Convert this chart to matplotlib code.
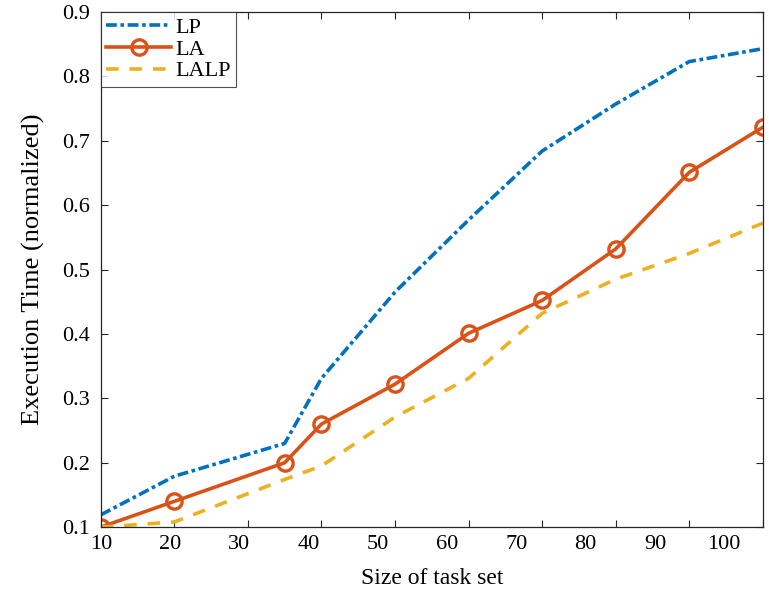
import matplotlib
matplotlib.use("Agg")
import matplotlib.pyplot as plt
from matplotlib.transforms import ScaledTranslation

task_sizes = [10, 20, 35, 40, 50, 60, 70, 80, 90, 100]
lp = [0.119, 0.179, 0.23, 0.331, 0.465, 0.577, 0.684, 0.757, 0.823, 0.843]
la = [0.10, 0.14, 0.20, 0.26, 0.322, 0.401, 0.452, 0.532, 0.651, 0.721]
lalp = [0.10, 0.108, 0.174, 0.195, 0.271, 0.331, 0.432, 0.485, 0.525, 0.572]
x_ticks = [10, 20, 30, 40, 50, 60, 70, 80, 90, 100]
y_ticks = [0.1, 0.2, 0.3, 0.4, 0.5, 0.6, 0.7, 0.8, 0.9]

plt.rcParams['font.family'] = ['Liberation Serif', 'DejaVu Serif']

fig = plt.figure(figsize=(7.69, 5.99), dpi=100)
ax = fig.add_axes([0.131, 0.120, 0.861, 0.860])

ax.plot(task_sizes, lp, color='#0072BD', lw=2.6, linestyle=(0, (3, 1, 1, 1)), label='LP')
ax.plot(task_sizes, la, color='#D95319', lw=2.6, marker='o', markersize=11,
        markerfacecolor='none', markeredgewidth=2.4, label='LA')
ax.plot(task_sizes, lalp, color='#EDB120', lw=2.6, linestyle=(0, (3.5, 3)), label='LALP')

ax.set_xlim(10, 100)
ax.set_ylim(0.1, 0.9)
ax.set_xticks(x_ticks)
ax.set_yticks(y_ticks)
ax.set_xticklabels([str(v) for v in x_ticks])
ax.set_yticklabels([f'{v:.1f}' for v in y_ticks])
ax.tick_params(direction='in', length=5, width=0.8, top=True, right=True,
               labelsize=16, colors='#262626', labelcolor='black')
ax.tick_params(axis='y', pad=8)
ax.tick_params(axis='x', pad=6)
for s in ax.spines.values():
    s.set_color('#262626')
    s.set_linewidth(0.9)

# the reference's x tick labels drift slightly left of their ticks
for i, lab in enumerate(ax.get_xticklabels()):
    lab.set_transform(lab.get_transform() + ScaledTranslation(-4.3 * i / 100, 0, fig.dpi_scale_trans))

ax.set_xlabel('Size of task set', fontsize=17, labelpad=10)
ax.set_ylabel('Execution Time (normalized)', fontsize=19, labelpad=12)

leg = ax.legend(loc='upper left', borderaxespad=0, fontsize=16, frameon=True,
                fancybox=False, handlelength=2.9, handletextpad=0.2,
                labelspacing=0.05, borderpad=0.25)
leg.get_frame().set_edgecolor('#262626')
leg.get_frame().set_linewidth(0.8)

fig.savefig('out.png', dpi=100)
